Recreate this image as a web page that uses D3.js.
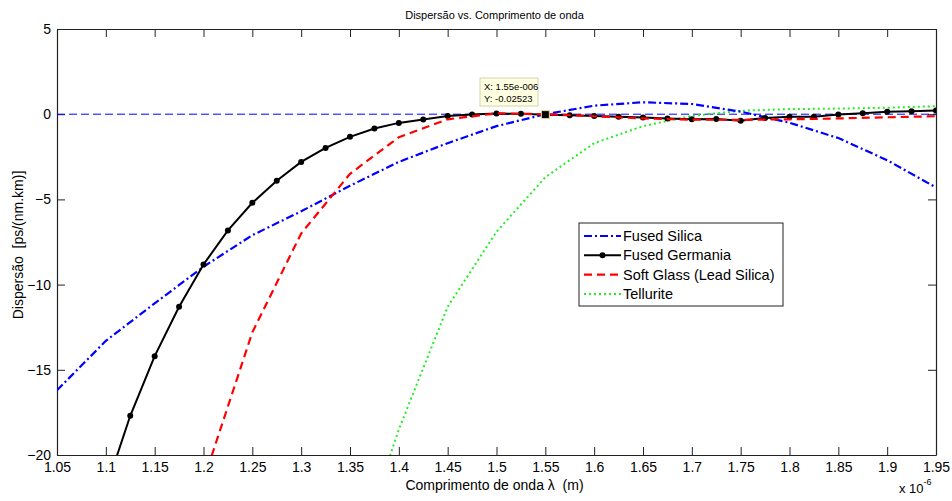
<!DOCTYPE html>
<html>
<head>
<meta charset="utf-8">
<script src="https://cdn.jsdelivr.net/npm/d3@7"></script>
<style>
  html, body { margin: 0; padding: 0; background: #fff; }
  svg { display: block; font-family: Arial, "Liberation Sans", Helvetica, sans-serif; }
  .pre { white-space: pre; }
</style>
</head>
<body>
<svg id="chart" width="952" height="501"></svg>
<script>
// Wavelengths in micrometres (axis shows multiplier x 10^-6)
const lambdaSilica = [1.05, 1.1, 1.15, 1.2, 1.25, 1.3, 1.35, 1.4, 1.45, 1.5, 1.55, 1.6, 1.65, 1.7, 1.75, 1.8, 1.85, 1.9, 1.95];
const dispSilica   = [-16.2, -13.3, -11.1, -8.95, -7.1, -5.7, -4.2, -2.8, -1.7, -0.7, 0.0, 0.5, 0.7, 0.6, 0.15, -0.5, -1.4, -2.7, -4.3];

const lambdaGermania = [1.1, 1.125, 1.15, 1.175, 1.2, 1.225, 1.25, 1.275, 1.3, 1.325, 1.35, 1.375, 1.4, 1.425, 1.45, 1.475, 1.5, 1.525, 1.55, 1.575, 1.6, 1.625, 1.65, 1.675, 1.7, 1.725, 1.75, 1.775, 1.8, 1.825, 1.85, 1.875, 1.9, 1.925, 1.95];
const dispGermania   = [-22.0, -17.7, -14.2, -11.3, -8.82, -6.82, -5.2, -3.9, -2.8, -1.98, -1.33, -0.84, -0.51, -0.31, -0.1, -0.02, 0.04, 0.02, -0.02523, -0.06, -0.1, -0.15, -0.2, -0.25, -0.3, -0.28, -0.38, -0.22, -0.15, -0.15, -0.02, 0.05, 0.15, 0.18, 0.22];

const lambdaSoft = [1.2, 1.25, 1.3, 1.35, 1.4, 1.45, 1.5, 1.55, 1.6, 1.65, 1.7, 1.75, 1.8, 1.85, 1.9, 1.95];
const dispSoft   = [-21.5, -12.8, -7.0, -3.5, -1.35, -0.3, 0.05, 0.0, -0.12, -0.25, -0.32, -0.33, -0.3, -0.25, -0.18, -0.12];

const lambdaTellurite = [1.35, 1.4, 1.45, 1.5, 1.55, 1.6, 1.65, 1.7, 1.75, 1.8, 1.85, 1.9, 1.95];
const dispTellurite   = [-27.0, -18.5, -11.3, -6.9, -3.7, -1.7, -0.7, -0.1, 0.2, 0.3, 0.33, 0.38, 0.47];

const xTicks = [1.05, 1.1, 1.15, 1.2, 1.25, 1.3, 1.35, 1.4, 1.45, 1.5, 1.55, 1.6, 1.65, 1.7, 1.75, 1.8, 1.85, 1.9, 1.95];
const yTicks = [5, 0, -5, -10, -15, -20];

const seriesNames = ["Fused Silica", "Fused Germania", "Soft Glass (Lead Silica)", "Tellurite"];

// Data cursor readout
const tipX = 1.55;
const tipY = -0.02523;

const svg = d3.select("#chart");
const margin = { left: 57, right: 16, top: 29, bottom: 46 };
const W = 952, H = 501;
const plotW = W - margin.left - margin.right;
const plotH = H - margin.top - margin.bottom;

const x = d3.scaleLinear().domain([1.05, 1.95]).range([margin.left, margin.left + plotW]);
const y = d3.scaleLinear().domain([-20, 5]).range([margin.top + plotH, margin.top]);

// Clip region for the curves
svg.append("defs").append("clipPath").attr("id", "plotClip")
  .append("rect").attr("x", margin.left).attr("y", margin.top).attr("width", plotW).attr("height", plotH);

// Title
svg.append("text").attr("x", margin.left + plotW / 2 - 2).attr("y", 19)
  .attr("text-anchor", "middle").attr("font-size", 11).attr("fill", "#000")
  .text("Dispersão vs. Comprimento de onda");

// Axes (box style with ticks pointing inward on all four sides)
const tickLen = 8;
const xAxisB = d3.axisBottom(x).tickValues(xTicks).tickSizeInner(-tickLen).tickSizeOuter(0).tickPadding(6)
  .tickFormat(d => d3.format("")(+d.toFixed(2)));
const yAxisL = d3.axisLeft(y).tickValues(yTicks).tickSizeInner(-tickLen).tickSizeOuter(0).tickPadding(6)
  .tickFormat(d => d3.format("")(d));
const xAxisT = d3.axisTop(x).tickValues(xTicks).tickSizeInner(-tickLen).tickSizeOuter(0).tickFormat("");
const yAxisR = d3.axisRight(y).tickValues(yTicks).tickSizeInner(-tickLen).tickSizeOuter(0).tickFormat("");

function styleAxis(g) {
  g.selectAll("path").attr("stroke", "#222").attr("stroke-width", 1.2);
  g.selectAll("line").attr("stroke", "#222").attr("stroke-width", 1);
  g.selectAll("text").attr("font-size", 14).attr("fill", "#000")
    .attr("font-family", "Arial, 'Liberation Sans', Helvetica, sans-serif");
}

svg.append("g").attr("transform", `translate(0,${margin.top + plotH})`).call(xAxisB).call(styleAxis)
  .selectAll("text").attr("dy", "0.78em");
svg.append("g").attr("transform", `translate(${margin.left},0)`).call(yAxisL).call(styleAxis);
svg.append("g").attr("transform", `translate(0,${margin.top})`).call(xAxisT).call(styleAxis);
svg.append("g").attr("transform", `translate(${margin.left + plotW},0)`).call(yAxisR).call(styleAxis);

// Axis labels
svg.append("text").attr("class", "pre").attr("x", margin.left + plotW / 2 - 2).attr("y", 490)
  .attr("text-anchor", "middle").attr("font-size", 14).attr("fill", "#000")
  .text("Comprimento de onda λ  (m)");
svg.append("text").attr("class", "pre").attr("transform", `translate(23,${margin.top + plotH / 2 + 3}) rotate(-90)`)
  .attr("text-anchor", "middle").attr("font-size", 14).attr("fill", "#000")
  .text("Dispersão  [ps/(nm.km)]");

// Exponent label for x axis
const expG = svg.append("text").attr("x", 899).attr("y", 493).attr("font-size", 13).attr("fill", "#000");
expG.append("tspan").text("x 10");
expG.append("tspan").attr("dy", -8).attr("font-size", 9).text("-6");

const plot = svg.append("g").attr("clip-path", "url(#plotClip)");

// Zero-dispersion reference line
plot.append("line").attr("x1", x(1.05)).attr("x2", x(1.95)).attr("y1", y(0)).attr("y2", y(0))
  .attr("stroke", "#0000ff").attr("stroke-width", 1).attr("stroke-dasharray", "8,4");

const line = d3.line().x(d => x(d[0])).y(d => y(d[1]));
const zip = (a, b) => a.map((v, i) => [v, b[i]]);

const silicaPts = zip(lambdaSilica, dispSilica);
const germaniaPts = zip(lambdaGermania, dispGermania);
const softPts = zip(lambdaSoft, dispSoft);
const tellPts = zip(lambdaTellurite, dispTellurite);

const styles = [
  { color: "#0000ff", width: 2.2, dash: "8,3,2,3" },
  { color: "#000000", width: 2, dash: null },
  { color: "#ff0000", width: 2.2, dash: "8,5" },
  { color: "#22ee22", width: 2, dash: "2,3" }
];

plot.append("path").datum(tellPts).attr("d", line).attr("fill", "none")
  .attr("stroke", styles[3].color).attr("stroke-width", styles[3].width).attr("stroke-dasharray", styles[3].dash);
plot.append("path").datum(silicaPts).attr("d", line).attr("fill", "none")
  .attr("stroke", styles[0].color).attr("stroke-width", styles[0].width).attr("stroke-dasharray", styles[0].dash);
plot.append("path").datum(germaniaPts).attr("d", line).attr("fill", "none")
  .attr("stroke", styles[1].color).attr("stroke-width", styles[1].width);
plot.selectAll("circle.gm").data(germaniaPts).join("circle").attr("class", "gm")
  .attr("cx", d => x(d[0])).attr("cy", d => y(d[1])).attr("r", 3).attr("fill", "#000");
plot.append("path").datum(softPts).attr("d", line).attr("fill", "none")
  .attr("stroke", styles[2].color).attr("stroke-width", styles[2].width).attr("stroke-dasharray", styles[2].dash);

// Data cursor marker and readout box
const tx = x(tipX), ty = y(tipY);
svg.append("rect").attr("x", tx - 4).attr("y", ty - 4).attr("width", 8).attr("height", 8)
  .attr("fill", "#000").attr("stroke", "#e8dfb0").attr("stroke-width", 1);
svg.append("rect").attr("x", 480).attr("y", 78).attr("width", 58).attr("height", 28)
  .attr("fill", "#ffffe1").attr("stroke", "#d8d2b0").attr("stroke-width", 1);
svg.append("text").attr("x", 484).attr("y", 90).attr("font-size", 9.5).attr("fill", "#000")
  .text("X: " + "1.55e-006");
svg.append("text").attr("x", 484).attr("y", 102).attr("font-size", 9.5).attr("fill", "#000")
  .text("Y: " + tipY);

// Legend
const lg = svg.append("g").attr("transform", "translate(579,223)");
lg.append("rect").attr("width", 204).attr("height", 83).attr("fill", "#fff").attr("stroke", "#222").attr("stroke-width", 1);
seriesNames.forEach((name, i) => {
  const yy = 13 + i * 19.3;
  const s = styles[i];
  const l = lg.append("line").attr("x1", 5).attr("x2", 42).attr("y1", yy).attr("y2", yy)
    .attr("stroke", s.color).attr("stroke-width", s.width);
  if (s.dash) l.attr("stroke-dasharray", s.dash);
  if (i === 1) lg.append("circle").attr("cx", 23.5).attr("cy", yy).attr("r", 3).attr("fill", "#000");
  lg.append("text").attr("x", 44).attr("y", yy + 5).attr("font-size", 14.5).attr("fill", "#000").text(name);
});
</script>
</body>
</html>
